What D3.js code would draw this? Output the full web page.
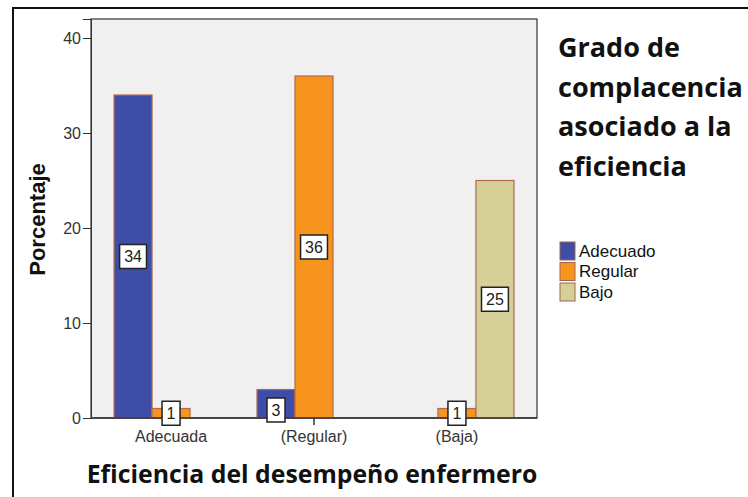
<!DOCTYPE html>
<html>
<head>
<meta charset="utf-8">
<script src="https://cdn.jsdelivr.net/npm/d3@7"></script>
<style>
  html, body { margin: 0; padding: 0; background: #fff; }
  svg { display: block; }
</style>
</head>
<body>
<script>
const categories = ["Adecuada", "(Regular)", "(Baja)"];
const seriesNames = ["Adecuado", "Regular", "Bajo"];
const adecuadoValues = [34, 3, 0];
const regularValues = [1, 36, 1];
const bajoValues = [0, 0, 25];
const yTicks = [0, 10, 20, 30, 40];
const titleLines = ["Grado de", "complacencia", "asociado a la", "eficiencia"];
const xTitle = "Eficiencia del desempeño enfermero";
const yTitle = "Porcentaje";
const colors = ["#3E4EA6", "#F7941E", "#D6CF97"];

const W = 748, H = 497;
const plot = { left: 91, right: 537, top: 19, bottom: 418 };

const svg = d3.select("body").append("svg").attr("width", W).attr("height", H);

// outer frame (left and top edges visible)
svg.append("path")
  .attr("d", `M${W + 5},8 L13,8 L13,${H + 5}`)
  .attr("fill", "none").attr("stroke", "#111").attr("stroke-width", 2);

// plot background
svg.append("rect")
  .attr("x", plot.left).attr("y", plot.top)
  .attr("width", plot.right - plot.left).attr("height", plot.bottom - plot.top)
  .attr("fill", "#F0F0F0").attr("stroke", "#333").attr("stroke-width", 1.2);

const y = d3.scaleLinear().domain([0, 42]).range([plot.bottom, plot.top]);
const x0 = d3.scaleBand().domain(categories).range([plot.left, plot.right])
  .paddingInner(0).paddingOuter(0.06);
const clusterW = 114;
const x1 = d3.scaleBand().domain(seriesNames)
  .range([(x0.bandwidth() - clusterW) / 2, (x0.bandwidth() + clusterW) / 2]);

const seriesValues = [adecuadoValues, regularValues, bajoValues];
const data = [];
categories.forEach((c, i) => {
  seriesNames.forEach((s, j) => {
    data.push({ cat: c, series: s, value: seriesValues[j][i], color: colors[j] });
  });
});

// bars
const barData = data.filter(d => d.value > 0);
svg.append("g").selectAll("rect").data(barData).join("rect")
  .attr("x", d => x0(d.cat) + x1(d.series))
  .attr("y", d => y(d.value))
  .attr("width", x1.bandwidth())
  .attr("height", d => y(0) - y(d.value))
  .attr("fill", d => d.color)
  .attr("stroke", "#B4694F").attr("stroke-width", 1.2);

// y axis
const yAxis = d3.axisLeft(y).tickValues(yTicks).tickSize(8).tickPadding(2);
const gy = svg.append("g").attr("transform", `translate(${plot.left},0)`).call(yAxis);
gy.select(".domain").attr("stroke", "#333");
gy.selectAll(".tick line").attr("stroke", "#333");
gy.selectAll(".tick text").attr("font-family", "Liberation Sans, Arial, sans-serif")
  .attr("font-size", 16).attr("fill", "#333");

// x axis
const xAxis = d3.axisBottom(x0).tickSize(7).tickPadding(6);
const gx = svg.append("g").attr("transform", `translate(0,${plot.bottom})`).call(xAxis);
gx.select(".domain").remove();
gx.selectAll(".tick line").attr("stroke", "#333").attr("stroke-width", 1.5);
gx.selectAll(".tick text").attr("font-family", "Liberation Sans, Arial, sans-serif")
  .attr("font-size", 16).attr("fill", "#333");
svg.append("line")
  .attr("x1", plot.left).attr("x2", plot.right)
  .attr("y1", plot.bottom).attr("y2", plot.bottom)
  .attr("stroke", "#333").attr("stroke-width", 1.5);

// value labels (centered on bar midpoint)
const labels = svg.append("g").selectAll("g").data(barData).join("g")
  .attr("transform", d => {
    const cx = x0(d.cat) + x1(d.series) + x1.bandwidth() / 2;
    const mid = (y(d.value) + y(0)) / 2;
    const cy = d.value < 5 ? Math.max(mid, y(0) - 8) : mid;
    return `translate(${cx},${cy})`;
  });
labels.append("text")
  .attr("text-anchor", "middle").attr("dy", "0.36em")
  .attr("font-family", "Liberation Sans, Arial, sans-serif").attr("font-size", 16)
  .attr("fill", "#222")
  .text(d => d.value);
labels.each(function() {
  const g = d3.select(this);
  const t = g.select("text").node().getBBox();
  const w = t.width + 9, h = 24;
  g.insert("rect", "text")
    .attr("x", -w / 2).attr("y", -h / 2).attr("width", w).attr("height", h)
    .attr("fill", "#fff").attr("stroke", "#222").attr("stroke-width", 1.5);
});

// y title
svg.append("text")
  .attr("transform", `translate(45,${(plot.top + plot.bottom) / 2 + 1}) rotate(-90)`)
  .attr("text-anchor", "middle")
  .attr("font-family", "Liberation Sans, Arial, sans-serif").attr("font-weight", "bold")
  .attr("font-size", 22).attr("fill", "#111")
  .text(yTitle);

// x title
svg.append("text")
  .attr("x", (plot.left + plot.right) / 2 - 2).attr("y", 483)
  .attr("text-anchor", "middle")
  .attr("font-family", "Open Sans, sans-serif").attr("font-weight", "bold")
  .attr("font-size", 24.8).attr("fill", "#111")
  .text(xTitle);

// title
svg.append("g").selectAll("text").data(titleLines).join("text")
  .attr("x", 558).attr("y", (d, i) => 57 + i * 39.5)
  .attr("font-family", "Open Sans, sans-serif").attr("font-weight", "bold")
  .attr("font-size", 27).attr("fill", "#111")
  .text(d => d);

// legend
const leg = svg.append("g").selectAll("g").data(seriesNames).join("g")
  .attr("transform", (d, i) => `translate(560,${251 + i * 20.5})`);
leg.append("rect")
  .attr("x", 0).attr("y", -9).attr("width", 15).attr("height", 18)
  .attr("fill", (d, i) => colors[i]).attr("stroke", "#A0654F").attr("stroke-width", 1);
leg.append("text")
  .attr("x", 19).attr("dy", "0.35em")
  .attr("font-family", "Liberation Sans, Arial, sans-serif").attr("font-size", 17)
  .attr("fill", "#111")
  .text(d => d);
</script>
</body>
</html>
